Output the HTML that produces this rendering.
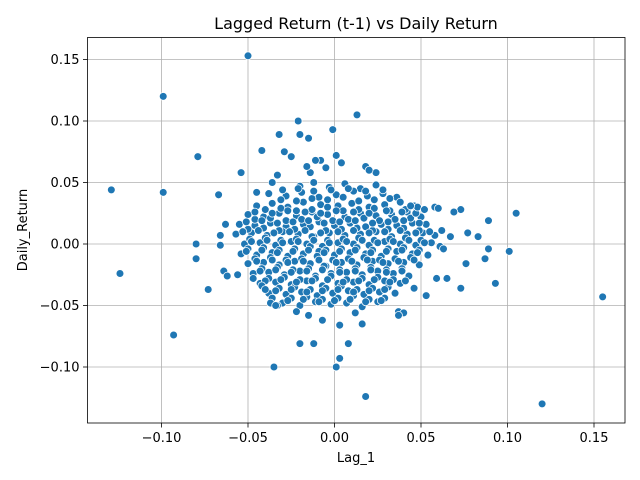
<!DOCTYPE html>
<html><head><meta charset="utf-8"><style>
html,body{margin:0;padding:0;background:#fff;}
svg{display:block;font-family:"DejaVu Sans","Liberation Sans",sans-serif;}
</style></head><body>
<svg id="chart" width="640" height="480" viewBox="0 0 640 480">
<rect x="0" y="0" width="640" height="480" fill="#fff"/>
<g id="grid"></g>
<g id="pts"></g>
<rect x="87.5" y="37.5" width="537.5" height="385.5" fill="none" stroke="#000" stroke-width="0.8"/>
<g id="ticks"></g>
<text x="356" y="29" text-anchor="middle" font-size="16" fill="#000">Lagged Return (t-1) vs Daily Return</text>
<text x="356" y="462" text-anchor="middle" font-size="13" fill="#000">Lag_1</text>
<text x="0" y="0" transform="translate(27,230) rotate(-90)" text-anchor="middle" font-size="13" fill="#000">Daily_Return</text>
</svg>
<script>
const xTicks = [-0.10, -0.05, 0.00, 0.05, 0.10, 0.15];
const xTickLabels = ["−0.10", "−0.05", "0.00", "0.05", "0.10", "0.15"];
const yTicks = [-0.10, -0.05, 0.00, 0.05, 0.10, 0.15];
const yTickLabels = ["−0.10", "−0.05", "0.00", "0.05", "0.10", "0.15"];

const lag1 = [
-0.129,-0.124,-0.099,-0.099,-0.093,-0.079,-0.080,-0.080,-0.073,-0.067,-0.050,-0.054,-0.042,-0.035,-0.021,-0.001,0.013,0.001,0.003,0.018,0.120,0.155,0.105,0.101,0.093,0.089,0.089,0.087,0.083,0.077,0.076,0.073,0.073,0.069,0.067,0.062,0.065,0.059,0.058,0.053,-0.012,-0.020,0.008,-0.015,-0.020,-0.032,-0.029,-0.025,
-0.014,-0.005,0.004,0.018,0.024,-0.008,0.001,
-0.020,-0.012,-0.003,0.006,0.015,0.024,
-0.038,-0.028,-0.019,-0.009,0.001,0.011,0.019,0.028,0.036,
-0.045,-0.036,-0.027,-0.018,-0.008,0.002,0.010,0.020,0.029,0.038,0.046,
-0.050,-0.041,-0.032,-0.022,-0.013,-0.004,0.006,0.015,0.024,0.033,0.042,0.050,
-0.055,-0.046,-0.037,-0.028,-0.018,-0.009,0.000,0.009,0.018,0.027,0.036,0.045,0.053,
-0.057,-0.048,-0.039,-0.030,-0.021,-0.012,-0.003,0.006,0.015,0.024,0.033,0.042,0.051,0.058,
-0.052,-0.043,-0.034,-0.025,-0.016,-0.007,0.002,0.011,0.020,0.029,0.038,0.047,0.056,
-0.054,-0.045,-0.036,-0.027,-0.018,-0.009,0.000,0.009,0.018,0.027,0.036,0.045,0.054,
-0.050,-0.041,-0.032,-0.023,-0.014,-0.005,0.004,0.013,0.022,0.031,0.040,0.049,
-0.047,-0.038,-0.029,-0.020,-0.011,-0.002,0.007,0.016,0.025,0.034,0.043,
-0.043,-0.034,-0.025,-0.016,-0.007,0.002,0.011,0.020,0.029,0.038,
-0.038,-0.028,-0.019,-0.010,-0.001,0.008,0.017,0.026,0.035,
-0.030,-0.020,-0.011,-0.002,0.007,0.016,0.025,0.037,
-0.022,-0.015,-0.007,0.003,0.012,0.016,
-0.031,-0.022,-0.013,-0.004,0.005,0.014,0.023,0.032,
-0.040,-0.031,-0.022,-0.013,-0.004,0.005,0.014,0.023,0.032,0.041,
-0.046,-0.037,-0.028,-0.019,-0.010,-0.001,0.008,0.017,0.026,0.035,0.044,
-0.050,-0.041,-0.032,-0.023,-0.014,-0.005,0.004,0.013,0.022,0.031,0.040,0.049,
-0.049,-0.040,-0.031,-0.022,-0.013,-0.004,0.005,0.014,0.023,0.032,0.041,0.050,
-0.050,-0.041,-0.032,-0.023,-0.014,-0.005,0.004,0.013,0.022,0.031,0.040,0.049,
-0.046,-0.037,-0.028,-0.019,-0.010,-0.001,0.008,0.017,0.026,0.035,0.044,
-0.042,-0.033,-0.024,-0.015,-0.006,0.003,0.012,0.021,0.030,0.039,
-0.038,-0.029,-0.020,-0.011,-0.002,0.007,0.016,0.025,0.034,
-0.032,-0.023,-0.014,-0.005,0.004,0.013,0.022,0.031,
-0.025,-0.016,-0.007,0.002,0.011,0.020,0.029,
-0.030,-0.021,-0.012,-0.002,0.008,0.018,0.028,
-0.046,-0.036,-0.027,-0.017,-0.008,0.001,0.011,0.020,0.030,0.039,0.047,
-0.051,-0.042,-0.033,-0.024,-0.015,-0.006,0.003,0.012,0.022,0.031,0.040,0.049,
-0.053,-0.044,-0.035,-0.026,-0.017,-0.008,0.002,0.011,0.020,0.029,0.038,0.047,0.055,
-0.048,-0.039,-0.030,-0.021,-0.012,-0.003,0.007,0.016,0.025,0.034,0.043,0.052,
-0.051,-0.042,-0.033,-0.024,-0.015,-0.006,0.003,0.012,0.021,0.030,0.039,0.048,
-0.045,-0.036,-0.027,-0.018,-0.009,0.001,0.010,0.019,0.028,0.037,0.046,
-0.043,-0.034,-0.025,-0.016,-0.007,0.003,0.012,0.021,0.030,0.039,
-0.040,-0.031,-0.022,-0.013,-0.004,0.005,0.014,0.023,0.032,0.041,
-0.034,-0.025,-0.016,-0.007,0.002,0.011,0.020,0.029,
-0.027,-0.018,-0.009,0.000,0.009,0.018,0.027,
-0.045,0.048,0.040,0.037,-0.033,-0.036,0.044,-0.042,
-0.063,-0.066,-0.066,-0.064,-0.062,-0.056,-0.047,-0.040,-0.037,-0.034,0.060,0.061,0.063,0.046,0.052,0.020,-0.033,-0.036,-0.016,-0.011
];

const dailyReturn = [
0.044,-0.024,0.120,0.042,-0.074,0.071,0.000,-0.012,-0.037,0.040,0.153,0.058,0.076,-0.100,0.100,0.093,0.105,-0.100,-0.093,-0.124,-0.130,-0.043,0.025,-0.006,-0.032,0.019,-0.004,-0.012,0.006,0.009,-0.016,0.028,-0.036,0.026,0.006,0.011,-0.028,-0.028,0.030,-0.042,-0.081,-0.081,-0.081,0.086,0.089,0.089,0.075,0.071,
0.058,0.062,0.066,0.063,0.058,0.068,0.072,
0.047,0.050,0.046,0.049,0.045,0.048,
0.041,0.039,0.042,0.038,0.040,0.043,0.039,0.041,0.038,
0.031,0.033,0.030,0.034,0.032,0.031,0.033,0.030,0.032,0.034,0.031,
0.024,0.022,0.025,0.023,0.026,0.024,0.022,0.025,0.023,0.024,0.026,0.022,
0.016,0.015,0.017,0.014,0.016,0.018,0.015,0.017,0.014,0.016,0.015,0.017,0.016,
0.008,0.009,0.007,0.010,0.008,0.006,0.009,0.007,0.008,0.010,0.006,0.008,0.009,0.007,
0.000,0.001,-0.001,0.002,0.000,-0.002,0.001,0.000,-0.001,0.002,0.000,-0.001,0.001,
-0.008,-0.009,-0.007,-0.010,-0.008,-0.006,-0.009,-0.007,-0.008,-0.010,-0.006,-0.008,-0.009,
-0.016,-0.015,-0.017,-0.014,-0.016,-0.018,-0.015,-0.017,-0.014,-0.016,-0.015,-0.017,
-0.024,-0.023,-0.025,-0.022,-0.026,-0.024,-0.023,-0.025,-0.022,-0.024,-0.026,
-0.032,-0.031,-0.033,-0.030,-0.034,-0.032,-0.031,-0.033,-0.030,-0.032,
-0.040,-0.041,-0.039,-0.042,-0.040,-0.038,-0.041,-0.039,-0.040,
-0.048,-0.050,-0.047,-0.049,-0.048,-0.051,-0.047,-0.055,
-0.055,-0.058,-0.062,-0.066,-0.056,-0.065,
0.036,0.035,0.037,0.036,0.038,0.035,0.036,0.037,
0.028,0.029,0.027,0.028,0.030,0.027,0.028,0.029,0.027,0.028,
0.020,0.021,0.019,0.020,0.022,0.019,0.020,0.021,0.019,0.020,0.021,
0.012,0.013,0.011,0.012,0.014,0.011,0.012,0.013,0.011,0.012,0.013,0.011,
0.004,0.005,0.003,0.004,0.006,0.003,0.004,0.005,0.003,0.004,0.005,0.003,
-0.004,-0.003,-0.005,-0.004,-0.002,-0.005,-0.004,-0.003,-0.005,-0.004,-0.003,-0.005,
-0.012,-0.011,-0.013,-0.012,-0.010,-0.013,-0.012,-0.011,-0.013,-0.012,-0.011,
-0.020,-0.019,-0.021,-0.020,-0.018,-0.021,-0.020,-0.019,-0.021,-0.020,
-0.028,-0.027,-0.029,-0.028,-0.026,-0.029,-0.028,-0.027,-0.029,
-0.036,-0.035,-0.037,-0.036,-0.034,-0.037,-0.036,-0.035,
-0.044,-0.043,-0.045,-0.044,-0.042,-0.045,-0.044,
0.044,0.045,0.043,0.044,0.045,0.043,0.044,
0.026,0.025,0.027,0.026,0.025,0.027,0.026,0.025,0.027,0.026,0.025,
0.018,0.019,0.017,0.018,0.019,0.017,0.018,0.019,0.017,0.018,0.019,0.017,
0.010,0.011,0.009,0.010,0.011,0.009,0.010,0.011,0.009,0.010,0.011,0.009,0.010,
0.002,0.003,0.001,0.002,0.003,0.001,0.002,0.003,0.001,0.002,0.003,0.001,
-0.006,-0.005,-0.007,-0.006,-0.005,-0.007,-0.006,-0.005,-0.007,-0.006,-0.005,-0.007,
-0.014,-0.013,-0.015,-0.014,-0.013,-0.015,-0.014,-0.013,-0.015,-0.014,-0.013,
-0.022,-0.021,-0.023,-0.022,-0.021,-0.023,-0.022,-0.021,-0.023,-0.022,
-0.030,-0.029,-0.031,-0.030,-0.029,-0.031,-0.030,-0.029,-0.031,-0.030,
-0.038,-0.037,-0.039,-0.038,-0.037,-0.039,-0.038,-0.037,
-0.046,-0.045,-0.047,-0.046,-0.045,-0.047,-0.046,
0.042,0.030,-0.056,-0.058,-0.050,-0.044,0.031,-0.034,
0.016,0.007,-0.001,-0.022,-0.026,-0.025,-0.028,-0.037,-0.048,-0.050,0.029,-0.002,-0.004,-0.036,0.028,0.060,0.056,0.050,0.063,0.068
];

const NS = "http://www.w3.org/2000/svg";
const plotL = 87.5, plotR = 625, plotT = 37.5, plotB = 423;
function xScale(v){ return 334.5 + v * 1730; }
function yScale(v){ return 244 - v * 1230; }

const grid = document.getElementById('grid');
const ticks = document.getElementById('ticks');
xTicks.forEach(function(t, i){
  const x = xScale(t);
  const gl = document.createElementNS(NS, 'line');
  gl.setAttribute('x1', x); gl.setAttribute('x2', x);
  gl.setAttribute('y1', plotT); gl.setAttribute('y2', plotB);
  gl.setAttribute('stroke', '#b0b0b0'); gl.setAttribute('stroke-width', '0.8');
  
  
  grid.appendChild(gl);
  const tk = document.createElementNS(NS, 'line');
  tk.setAttribute('x1', x); tk.setAttribute('x2', x);
  tk.setAttribute('y1', plotB); tk.setAttribute('y2', plotB + 4.5);
  tk.setAttribute('stroke', '#000'); tk.setAttribute('stroke-width', '0.8');
  
  
  ticks.appendChild(tk);
  const tx = document.createElementNS(NS, 'text');
  tx.setAttribute('x', x); tx.setAttribute('y', plotB + 19);
  tx.setAttribute('text-anchor', 'middle'); tx.setAttribute('font-size', '13');
  tx.textContent = xTickLabels[i];
  
  
  ticks.appendChild(tx);
});
yTicks.forEach(function(t, i){
  const y = yScale(t);
  const gl = document.createElementNS(NS, 'line');
  gl.setAttribute('x1', plotL); gl.setAttribute('x2', plotR);
  gl.setAttribute('y1', y); gl.setAttribute('y2', y);
  gl.setAttribute('stroke', '#b0b0b0'); gl.setAttribute('stroke-width', '0.8');
  
  
  grid.appendChild(gl);
  const tk = document.createElementNS(NS, 'line');
  tk.setAttribute('x1', plotL - 4.5); tk.setAttribute('x2', plotL);
  tk.setAttribute('y1', y); tk.setAttribute('y2', y);
  tk.setAttribute('stroke', '#000'); tk.setAttribute('stroke-width', '0.8');
  
  
  ticks.appendChild(tk);
  const tx = document.createElementNS(NS, 'text');
  tx.setAttribute('x', plotL - 8); tx.setAttribute('y', y + 4.5);
  tx.setAttribute('text-anchor', 'end'); tx.setAttribute('font-size', '13');
  tx.textContent = yTickLabels[i];
  
  
  ticks.appendChild(tx);
});

const pts = document.getElementById('pts');
for (let i = 0; i < lag1.length; i++) {
  const c = document.createElementNS(NS, 'circle');
  c.setAttribute('cx', xScale(lag1[i]));
  c.setAttribute('cy', yScale(dailyReturn[i]));
  c.setAttribute('r', '3.9');
  c.setAttribute('fill', '#1f77b4');
  c.setAttribute('stroke', '#fff');
  c.setAttribute('stroke-width', '0.75');
  
  
  pts.appendChild(c);
}
</script>
</body></html>
